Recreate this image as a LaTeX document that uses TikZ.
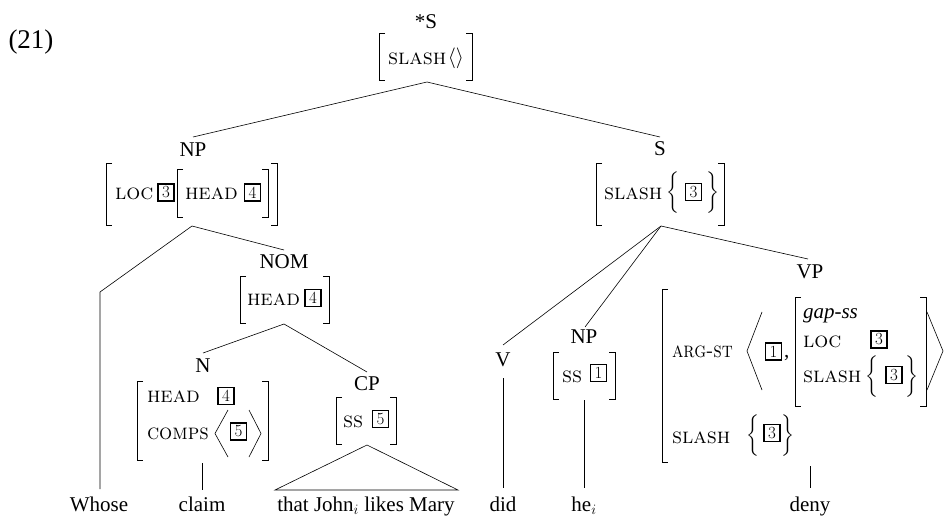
\documentclass[tikz,border=0pt]{standalone}
\usepackage{exscale}
\usepackage{graphicx}
\usepackage{fontspec}
\newfontfamily\tm{Liberation Serif}
\tikzset{
  lab/.style={font=\fontsize{21}{24}\selectfont\tm, inner sep=0, outer sep=0},
  wd/.style={lab, anchor=base},
  ft/.style={font=\fontsize{22}{24}\selectfont\scshape, inner sep=0, outer sep=0, anchor=base west},
  tagbox/.style={draw, line width=1.8pt, minimum width=16pt, minimum height=17pt, inner sep=0, font=\fontsize{17}{17}\selectfont},
  dl/.style={font=\fontsize{19}{19}\selectfont, inner sep=0, outer sep=0},
  br/.style={line width=0.9pt},
  ang/.style={line width=0.6pt},
  edge/.style={line width=0.6pt},
}
\newcommand\sqbr[4]{%
  \draw[br] (#1+6,#3) -| (#1,#4) -- (#1+6,#4);
  \draw[br] (#2-6,#3) -| (#2,#4) -- (#2-6,#4);}
\begin{document}
\begin{tikzpicture}[x=1pt,y=-1pt]
\useasboundingbox (0,0) rectangle (948,516);
% example number
\node[lab, font=\fontsize{27}{30}\selectfont\tm] (ex) at (31,42) {(21)};
% root
\node[lab] (root) at (426,22) {*S};
\sqbr{379}{472}{33}{80}
\node[ft] (rootslash) at (388,65) {slash};
\node[dl, font=\fontsize{21}{21}\selectfont] (rootang) at (456,58) {$\langle\rangle$};
\coordinate (rootB) at (427,82);
% NP
\node[lab] (np) at (193,150) {NP};
\coordinate (npT) at (193,137);
\sqbr{106}{277}{163}{225}
\sqbr{177}{268}{169}{217}
\node[ft] (nploc) at (115,200) {loc};
\node[tagbox] (nptag3) at (166,192.5) {3};
\node[ft] (nphead) at (185,200) {head};
\node[tagbox] (nptag4) at (252.5,192.5) {4};
\coordinate (npB) at (192,226);
% NOM
\node[lab] (nom) at (284,262) {NOM};
\coordinate (nomT) at (284,250);
\sqbr{240}{329}{276}{323}
\node[ft] (nomhead) at (247,305) {head};
\node[tagbox] (nomtag4) at (313,298) {4};
\coordinate (nomB) at (284,324);
% N
\node[lab] (n) at (203,366) {N};
\coordinate (nT) at (203,353);
\sqbr{137}{268}{381}{460}
\node[ft] (nhead) at (147,402) {head};
\node[tagbox] (ntag4) at (226,396) {4};
\node[ft] (ncomps) at (147,439) {\scalebox{0.94}[1]{comps}};
\draw[ang] (228,410) -- (215,433.5) -- (228,457);
\node[tagbox] (ntag5) at (238.5,431.5) {5};
\draw[ang] (249,410) -- (261,433.5) -- (249,457);
\coordinate (nB) at (202,463);
% CP
\node[lab] (cp) at (367,384) {CP};
\coordinate (cpT) at (367,372);
\sqbr{336}{396}{397}{444}
\node[ft] (cpss) at (343,427) {ss};
\node[tagbox] (cptag5) at (380.5,419) {5};
\coordinate (cpB) at (367,445);
\coordinate (triL) at (275,490);
\coordinate (triR) at (458,490);
% S
\node[lab] (s) at (660,149) {S};
\coordinate (sT) at (660,137);
\sqbr{596}{724}{163}{225}
\node[ft] (sslash) at (604,199) {slash};
\node[dl] (slb) at (672.5,193) {$\bigg\{$};
\node[tagbox] (stag3) at (693.5,192) {3};
\node[dl] (srb) at (712.5,193) {$\bigg\}$};
\coordinate (sB) at (661,226);
% V
\node[lab] (v) at (503,360) {V};
\coordinate (vT) at (503,345);
\coordinate (vB) at (503,378);
% NP under S
\node[lab] (np2) at (584,337) {NP};
\coordinate (np2T) at (585,327);
\sqbr{553}{615}{352}{399}
\node[ft] (np2ss) at (562,382) {ss};
\node[tagbox] (np2tag1) at (598.5,373) {1};
\coordinate (np2B) at (584,400);
% VP
\node[lab] (vp) at (810,272) {VP};
\coordinate (vpT) at (808,259);
\draw[br] (668,289) -- (662,289) -- (662,462) -- (668,462);
\node[ft] (argst) at (672,357) {\scalebox{0.85}[1]{arg-st}};
\draw[ang] (762,312) -- (747,351) -- (762,390);
\node[tagbox] (vptag1) at (773.5,351.5) {1};
\node[lab, anchor=base west] (comma) at (784,357) {,};
\sqbr{795}{926}{297}{406}
\node[lab, anchor=base west, font=\fontsize{21}{24}\selectfont\tm\itshape] (gapss) at (803,318) {gap-ss};
\node[ft] (vploc) at (803,347) {loc};
\node[tagbox] (vptag3a) at (879,339.5) {3};
\node[ft] (vpslash) at (803,382) {slash};
\node[dl] (vplb) at (872,377) {$\bigg\{$};
\node[tagbox] (vptag3b) at (894,375) {3};
\node[dl] (vprb) at (912,377) {$\bigg\}$};
\draw[ang] (927,312) -- (943,351) -- (927,390);
\node[ft] (vpslash2) at (672,443) {slash};
\node[dl] (vplb2) at (753,436) {$\bigg\{$};
\node[tagbox] (vptag3c) at (772,433) {3};
\node[dl] (vprb2) at (788,436) {$\bigg\}$};
\coordinate (vpB) at (810,466);
% words
\node[wd] (whose) at (99,511) {Whose};
\node[wd] (claim) at (202,511) {claim};
\node[wd] (that) at (366,511) {that John$_i$ likes Mary};
\node[wd] (did) at (503,511) {did};
\node[wd] (he) at (584,511) {he$_i$};
\node[wd] (deny) at (810,511) {deny};
\coordinate (whoseT) at (100,489);
\coordinate (whoseK) at (100,292);
\coordinate (claimT) at (202,490);
\coordinate (didT) at (503,488);
\coordinate (heT) at (584,488);
\coordinate (denyT) at (810,488);
% edges
\draw[edge] (npT) -- (rootB) -- (sT);
\draw[edge] (npB) -- (nomT);
\draw[edge] (npB) -- (whoseK) -- (whoseT);
\draw[edge] (nT) -- (nomB) -- (cpT);
\draw[edge] (nB) -- (claimT);
\draw[edge] (triL) -- (cpB) -- (triR) -- cycle;
\draw[edge] (sB) -- (vT);
\draw[edge] (sB) -- (np2T);
\draw[edge] (sB) -- (vpT);
\draw[edge] (vB) -- (didT);
\draw[edge] (np2B) -- (heT);
\draw[edge] (vpB) -- (denyT);
\end{tikzpicture}
\end{document}
